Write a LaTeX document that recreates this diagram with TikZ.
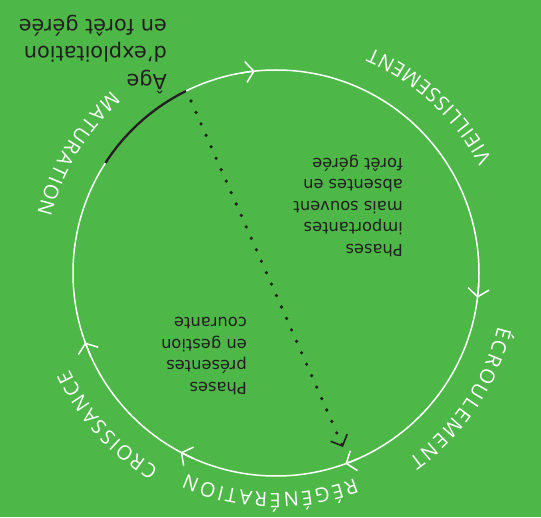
\documentclass[tikz,border=0pt]{standalone}
\usepackage{fontspec}
\setmainfont{DejaVu Sans}
\newfontfamily\phasefont{Open Sans}
\usetikzlibrary{arrows.meta,decorations.text,calc}

\definecolor{foretvert}{RGB}{77,183,72}
\definecolor{encre}{RGB}{35,31,32}

\tikzset{
  cycle/.style={white, line width=1.5pt},
  sens/.style={white, line width=1.5pt, -{Straight Barb[length=8pt,width=21pt]}},
  bloc/.style={encre, align=left, inner sep=0pt, anchor=north west, rotate=180,
    font=\fontsize{16.3}{21.6}\selectfont},
  grandbloc/.style={bloc, font=\fontsize{20.8}{27.5}\selectfont},
  phase/.style={decorate, decoration={text along path, text align=fit to path,
    text={|\phasefont\fontsize{20}{20}\selectfont\color{white}|#1}}}
}

\begin{document}
\begin{tikzpicture}[x=1pt,y=1pt]
  \fill[foretvert] (0,0) rectangle (541,517);
  \useasboundingbox (0,0) rectangle (541,517);
  \coordinate (C) at (276,244);

  % le cycle
  \draw[cycle] (C) circle (203pt);
  \foreach \a in {96,-7,-70,-118,200}
    \draw[sens] ($(C)+(\a+4:203pt)$) arc[start angle=\a+4, end angle=\a, radius=203pt];
  \draw[encre, line width=2.3pt] ($(C)+(116.3:203pt)$) arc[start angle=116.3, end angle=147.2, radius=203pt];

  % phases
  \path[phase=RÉGÉNÉRATION] ($(C)+(-69:220pt)$) arc[start angle=-69, end angle=-114, radius=220pt];
  \path[phase=CROISSANCE] ($(C)+(239:228pt)$) arc[start angle=239, end angle=205, radius=228pt];
  \path[phase=ÉCROULEMENT] ($(C)+(-13.5:228pt)$) arc[start angle=-13.5, end angle=-54.5, radius=228pt];
  \path[phase=VIEILLISSEMENT] ($(C)+(27.8:244pt)$) arc[start angle=27.8, end angle=67, radius=244pt];
  \path[phase=MATURATION] ($(C)+(132:246pt)$) arc[start angle=132, end angle=166, radius=246pt];

  % textes
  \node[bloc] (rares) at (403,260) {Phases\\importantes\\mais souvent\\absentes en\\forêt gérée};
  \node[bloc] (courantes) at (247,122) {Phases\\présentes\\en gestion\\courante};
  \node[grandbloc] (age) at (167,423) {Âge\\d'exploitation\\en forêt gérée};

  % age d'exploitation
  \coordinate (debut) at (191,416);
  \coordinate (fin) at (343,70);
  \draw[encre, line width=3.6pt, line cap=round, dash pattern=on 0pt off 12.5pt,
    -{Straight Barb[length=9pt,width=18pt,line width=1.6pt]}] (debut) -- (fin);
\end{tikzpicture}
\end{document}
